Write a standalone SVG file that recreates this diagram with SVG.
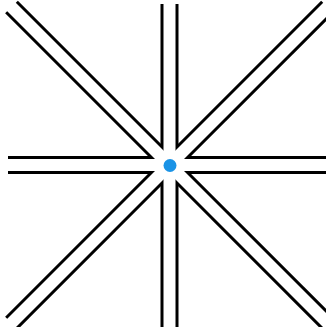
<svg xmlns="http://www.w3.org/2000/svg" width="326" height="327" viewBox="0 0 326 327">
  <style>
    .outer { stroke: #000; stroke-width: 18; fill: none; stroke-linecap: butt; }
    .inner { stroke: #fff; stroke-width: 12; fill: none; stroke-linecap: butt; }
    .hub { fill: #1a93e6; }
  </style>
  <rect width="326" height="327" fill="#fff"/>
  <g id="connectors">
    <g class="outer">
      <line x1="169.5" y1="165" x2="8" y2="165"/>
      <line x1="169.5" y1="165" x2="334" y2="165"/>
      <line x1="169.5" y1="165" x2="169.5" y2="4"/>
      <line x1="169.5" y1="165" x2="169.5" y2="334"/>
      <line x1="169.5" y1="165" x2="11.5" y2="7"/>
      <line x1="169.5" y1="165" x2="327.5" y2="7"/>
      <line x1="169.5" y1="165" x2="11.5" y2="323"/>
      <line x1="169.5" y1="165" x2="327.5" y2="323"/>
    </g>
    <g class="inner">
      <line x1="169.5" y1="165" x2="6" y2="165"/>
      <line x1="169.5" y1="165" x2="336" y2="165"/>
      <line x1="169.5" y1="165" x2="169.5" y2="2"/>
      <line x1="169.5" y1="165" x2="169.5" y2="336"/>
      <line x1="169.5" y1="165" x2="10" y2="5.5"/>
      <line x1="169.5" y1="165" x2="329" y2="5.5"/>
      <line x1="169.5" y1="165" x2="10" y2="324.5"/>
      <line x1="169.5" y1="165" x2="329" y2="324.5"/>
    </g>
  </g>
  <g id="hub">
    <circle class="hub" cx="170" cy="165.5" r="6.5"/>
  </g>
</svg>
